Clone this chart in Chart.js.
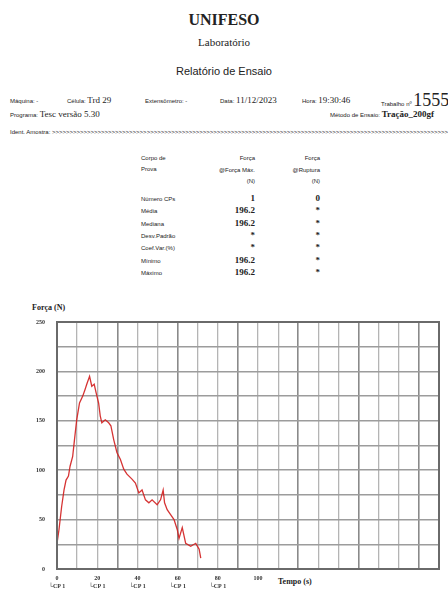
<!DOCTYPE html>
<html>
<head>
<meta charset="utf-8">
<script src="https://cdn.jsdelivr.net/npm/chart.js@4/dist/chart.umd.min.js"></script>
<style>
  body { margin: 0; width: 448px; height: 593px; overflow: hidden; background: #fff; position: relative; color: #222; }
  .t { position: absolute; white-space: nowrap; font-family: "Liberation Sans", Arial, sans-serif; font-size: 6px; line-height: 1; }
  .s { font-family: "Liberation Serif", "Times New Roman", serif; }
  .r { text-align: right; }
  #wrap { position: absolute; left: 20px; top: 300px; }
</style>
</head>
<body>
<div class="t s" style="left:0;width:448px;text-align:center;top:12px;font-size:16px;font-weight:bold;">UNIFESO</div>
<div class="t s" style="left:0;width:448px;text-align:center;top:37px;font-size:11px;">Laboratório</div>
<div class="t" style="left:0;width:448px;text-align:center;top:66px;font-size:11px;">Relatório de Ensaio</div>

<div class="t" style="left:10px;top:98px;">Máquina: -</div>
<div class="t" style="left:67px;top:96px;">Célula: <span class="s" style="font-size:9px;">Trd 29</span></div>
<div class="t" style="left:145px;top:98px;">Extensômetro: -</div>
<div class="t" style="left:220px;top:96px;">Data: <span class="s" style="font-size:9px;">11/12/2023</span></div>
<div class="t" style="left:302px;top:96px;">Hora: <span class="s" style="font-size:9px;">19:30:46</span></div>
<div class="t" style="left:381px;top:91px;">Trabalho nº <span class="s" style="font-size:18px;">1555</span></div>
<div class="t" style="left:10px;top:110px;">Programa: <span class="s" style="font-size:9px;">Tesc versão 5.30</span></div>
<div class="t" style="left:330px;top:110px;">Método de Ensaio: <span class="s" style="font-size:9px;font-weight:bold;">Tração_200gf</span></div>
<div class="t" id="ident" style="left:10px;top:129px;">Ident. Amostra: </div>

<div id="stats"></div>

<div class="t s" style="left:32px;top:304px;font-size:8px;font-weight:bold;">Força (N)</div>
<div class="t s" style="left:278px;top:578px;font-size:8px;font-weight:bold;">Tempo (s)</div>

<div id="wrap"><canvas id="grafico" width="428" height="293"></canvas></div>

<script>
// resumo dos resultados
var statLabels = ["Número CPs", "Média", "Mediana", "Desv.Padrão", "Coef.Var.(%)", "Mínimo", "Máximo"];
var forcaMax = ["1", "196.2", "196.2", "*", "*", "196.2", "196.2"];
var forcaRuptura = ["0", "*", "*", "*", "*", "*", "*"];

// curva força x tempo (CP 1)
var tempo = [0, 0, 1, 2.3, 3.5, 4.5, 5.7, 6.5, 7.8, 8.7, 9.8, 11.2, 12.8, 14, 14.8, 16.2, 17.3, 18.5, 19.5, 20.7, 21.5, 22.3, 24, 25.7, 26.8, 28.2, 29.8, 31.5, 33.2, 34.8, 37.3, 39, 40.7, 42.3, 44, 45.7, 47.3, 49.8, 51.5, 52.8, 53.5, 54.8, 56.5, 58.2, 59.8, 60.7, 62.3, 64, 66.5, 69, 70.7, 71.5];
var forca = [1, 26, 40, 63, 80, 90, 94, 104, 114, 131, 151, 168, 175, 182, 187, 195, 185, 187, 178, 168, 155, 148, 151, 148, 145, 131, 118, 111, 101, 96, 91, 87, 77, 80, 70, 67, 70, 65, 70, 80, 67, 60, 55, 50, 40, 31, 42, 26, 23, 26, 20, 11];

var xLabels = [0, 20, 40, 60, 80, 100];
var cpLabels = [0, 20, 40, 60, 80];
var yLabels = [0, 50, 100, 150, 200, 250];

document.getElementById("ident").textContent += ">".repeat(150);

// monta a tabela
var stats = document.getElementById("stats");
var html = "";
html += '<div class="t" style="left:141px;top:153px;line-height:11px;">Corpo de<br>Prova</div>';
html += '<div class="t r" style="left:195px;width:60px;top:153px;line-height:11.5px;">Força<br>@Força Máx.<br>(N)</div>';
html += '<div class="t r" style="left:260px;width:60px;top:153px;line-height:11.5px;">Força<br>@Ruptura<br>(N)</div>';
statLabels.forEach(function (lbl, i) {
  var top = 196 + i * 12.3;
  html += '<div class="t" style="left:141px;top:' + top + 'px;">' + lbl + '</div>';
  html += '<div class="t s r" style="left:195px;width:60px;top:' + (top - 2) + 'px;font-size:9px;font-weight:bold;">' + forcaMax[i] + '</div>';
  html += '<div class="t s r" style="left:260px;width:60px;top:' + (top - 2) + 'px;font-size:9px;font-weight:bold;">' + forcaRuptura[i] + '</div>';
});
stats.innerHTML = html;

// moldura em volta da área do gráfico
const frame = {
  id: "frame",
  afterDraw(chart) {
    const a = chart.chartArea;
    const ctx = chart.ctx;
    ctx.save();
    ctx.strokeStyle = "#6a6a6a";
    ctx.lineWidth = 2;
    ctx.strokeRect(a.left, a.top, a.right - a.left, a.bottom - a.top);
    ctx.restore();
  },
};

const ctx = document.getElementById("grafico").getContext("2d");
new Chart(ctx, {
  type: "line",
  data: {
    datasets: [
      {
        label: "CP 1",
        data: tempo.map((t, i) => ({ x: t, y: forca[i] })),
        borderColor: "rgba(210, 30, 30, 0.9)",
        borderWidth: 1.3,
        pointRadius: 0,
        tension: 0,
      },
    ],
  },
  options: {
    responsive: false,
    animation: false,
    layout: { padding: { top: 22, right: 9, left: 0, bottom: 0 } },
    plugins: { legend: { display: false }, tooltip: { enabled: false } },
    scales: {
      x: {
        type: "linear",
        min: 0,
        max: 190,
        afterFit: (s) => { s.height = 24; },
        border: { display: false },
        grid: {
          drawTicks: false,
          color: (c) => (c.tick.value % 30 === 0 ? "#8a8a8a" : "#b4b4b4"),
          lineWidth: (c) => (c.tick.value % 30 === 0 ? 1.6 : 1.3),
        },
        ticks: {
          stepSize: 10,
          autoSkip: false,
          maxRotation: 0,
          padding: 5,
          color: "#333",
          font: { family: "Liberation Serif", size: 6, weight: "bold", lineHeight: 1.4 },
          callback: function (v) {
            if (cpLabels.indexOf(v) >= 0) return [String(v), "\u2514CP 1"];
            if (xLabels.indexOf(v) >= 0) return [String(v), ""];
            return "";
          },
        },
      },
      y: {
        min: 0,
        max: 250,
        afterFit: (s) => { s.width = 37; },
        border: { display: false },
        grid: {
          drawTicks: false,
          color: "#9c9c9c",
          lineWidth: 1.6,
        },
        ticks: {
          stepSize: 25,
          autoSkip: false,
          padding: 12,
          color: "#333",
          font: { family: "Liberation Serif", size: 6, weight: "bold" },
          callback: (v) => (yLabels.indexOf(v) >= 0 ? String(v) : ""),
        },
      },
    },
  },
  plugins: [frame],
});
</script>
</body>
</html>
